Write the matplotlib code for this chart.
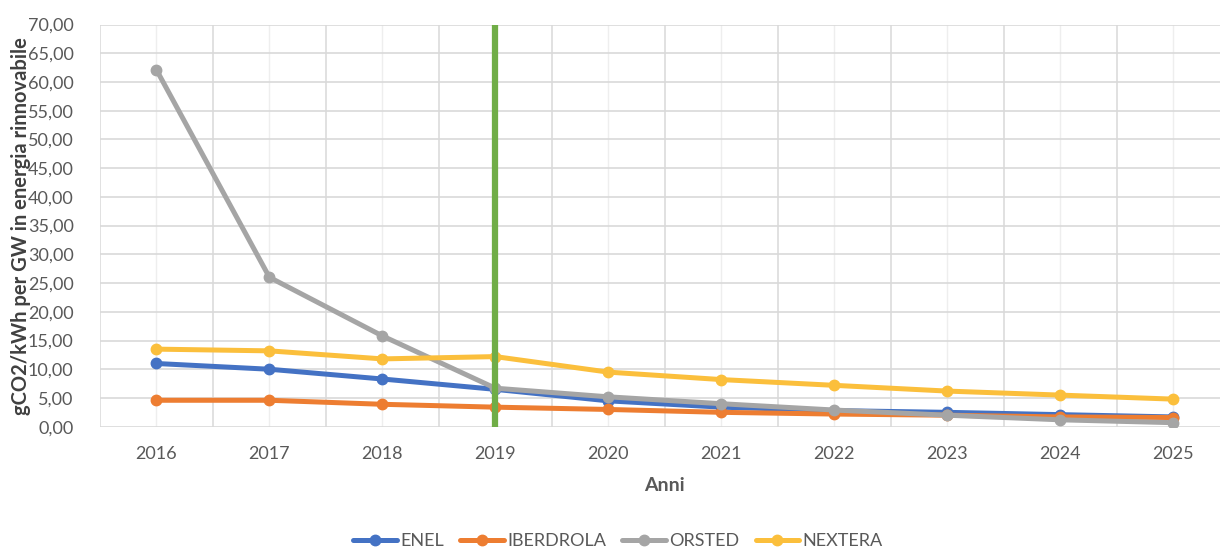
import matplotlib
matplotlib.use("Agg")
import matplotlib.pyplot as plt
from matplotlib.ticker import FuncFormatter, MultipleLocator, FixedLocator

anni = ["2016", "2017", "2018", "2019", "2020", "2021", "2022", "2023", "2024", "2025"]
enel = [11.0, 10.0, 8.3, 6.5, 4.5, 3.4, 2.8, 2.5, 2.1, 1.7]
iberdrola = [4.6, 4.6, 3.9, 3.4, 3.0, 2.5, 2.2, 2.0, 1.7, 1.6]
orsted = [62.1, 26.0, 15.8, 6.7, 5.2, 4.0, 2.9, 2.0, 1.2, 0.7]
nextera = [13.5, 13.2, 11.8, 12.2, 9.5, 8.2, 7.2, 6.2, 5.5, 4.8]
anno_riferimento = "2019"

serie = [
    ("ENEL", enel, "#4472C4"),
    ("IBERDROLA", iberdrola, "#ED7D31"),
    ("ORSTED", orsted, "#A5A5A5"),
    ("NEXTERA", nextera, "#FBBF3C"),
]

plt.rcParams["font.family"] = ["Lato", "DejaVu Sans"]

fig = plt.figure(figsize=(12.2, 5.5), dpi=100)
ax = fig.add_axes([100 / 1220, 123.3 / 550, 1129.5 / 1220, 402.2 / 550])

x = list(range(len(anni)))
for nome, valori, colore in serie:
    ax.plot(x, valori, color=colore, lw=3.6, marker="o", markersize=7.5,
            solid_capstyle="round", label=nome, zorder=3)

xr = anni.index(anno_riferimento)
ax.axvline(xr, color="#70AD47", lw=4.5, zorder=5)

ax.set_xlim(-0.5, len(anni) - 0.5)
ax.set_ylim(0, 70)
ax.yaxis.set_major_locator(MultipleLocator(5))
ax.yaxis.set_major_formatter(FuncFormatter(lambda v, p: f"{v:.2f}".replace(".", ",")))
ax.set_xticks(x)
ax.set_xticklabels(anni)
ax.xaxis.set_minor_locator(FixedLocator([i - 0.5 for i in range(len(anni) + 1)]))

ax.grid(axis="y", which="major", color="#D9D9D9", lw=1.2, zorder=0)
ax.grid(axis="x", which="minor", color="#DCDCDC", lw=1.2, zorder=0)
ax.grid(axis="x", which="major", color="#EEEEEE", lw=1.0, zorder=0)
ax.set_axisbelow(True)
for s in ax.spines.values():
    s.set_visible(False)

ax.tick_params(axis="both", which="both", length=0, labelsize=13, labelcolor="#595959")
ax.tick_params(axis="x", pad=14)
ax.tick_params(axis="y", pad=19)

ax.set_xlabel("Anni", fontsize=14, fontweight="bold", color="#595959")
ax.xaxis.set_label_coords(0.5, -0.125)
ax.set_ylabel("gCO2/kWh per GW in energia rinnovabile", fontsize=14.5, fontweight="bold",
              color="#404040")
ax.yaxis.set_label_coords(-69 / 1129.5, 0.5)

fig.legend(loc="center", bbox_to_anchor=(618 / 1220, 1 - 541 / 550), ncol=4, frameon=False,
           fontsize=13, handlelength=2.4, handletextpad=0.2, columnspacing=0.9,
           labelcolor="#595959")

fig.savefig("out.png", dpi=100)
